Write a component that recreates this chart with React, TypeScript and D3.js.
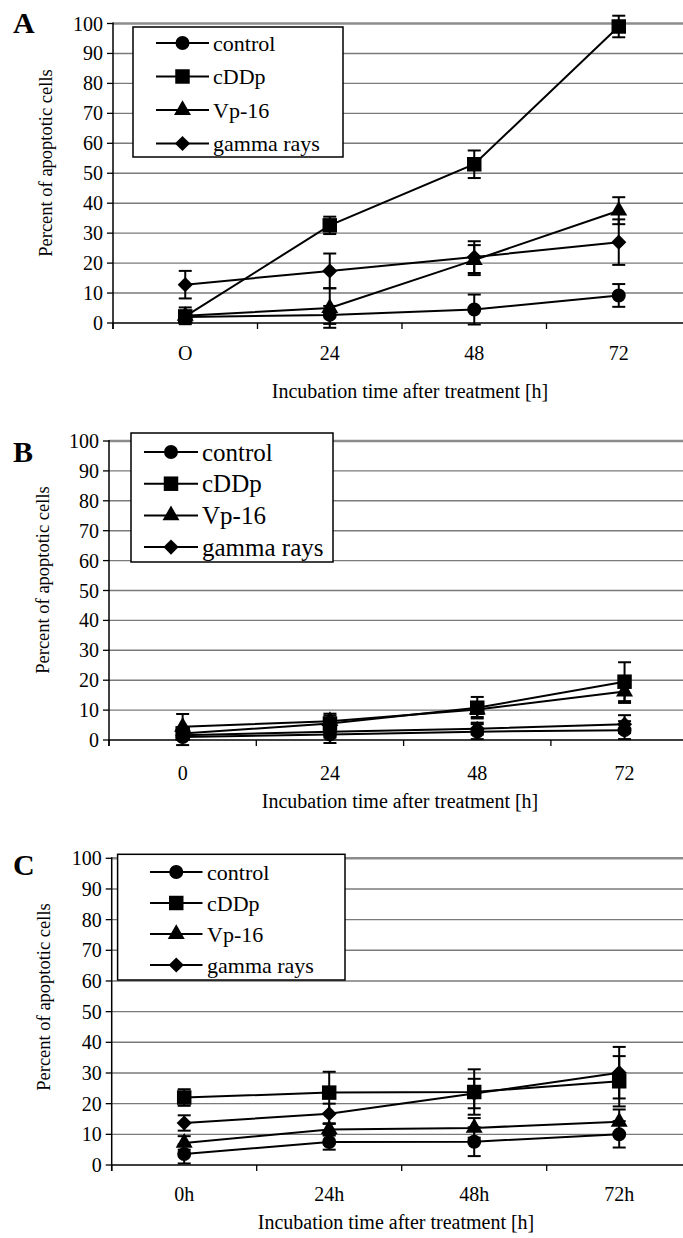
import React from "react";
import * as d3 from "d3";

const width = 683;
const height = 1238;
const font = '"Liberation Serif", "Times New Roman", "DejaVu Serif", serif';

const seriesNames = ["control", "cDDp", "Vp-16", "gamma rays"];
const yTicks = [0, 10, 20, 30, 40, 50, 60, 70, 80, 90, 100];
const xLabelsA = ["O", "24", "48", "72"];
const xLabelsB = ["0", "24", "48", "72"];
const xLabelsC = ["0h", "24h", "48h", "72h"];
const xTitle = "Incubation time after treatment [h]";
const yTitle = "Percent of apoptotic cells";

// panel A
const controlA = [2.0, 2.7, 4.5, 9.2];
const controlErrA = [1.0, 3.0, 5.0, 3.8];
const cddpA = [2.2, 32.6, 53.0, 99.0];
const cddpErrA = [1.5, 2.9, 4.6, 3.6];
const vp16A = [2.4, 5.0, 21.0, 37.5];
const vp16ErrA = [2.8, 6.6, 5.0, 4.5];
const gammaA = [12.8, 17.4, 22.0, 27.0];
const gammaErrA = [4.6, 5.8, 5.3, 7.6];

// panel B
const controlB = [1.0, 1.8, 2.8, 3.3];
const controlErrB = [2.7, 2.8, 2.5, 3.0];
const cddpB = [2.2, 5.5, 10.8, 19.5];
const cddpErrB = [2.0, 2.7, 3.6, 6.5];
const vp16B = [4.4, 6.3, 10.2, 16.2];
const vp16ErrB = [4.3, 2.5, 2.5, 3.8];
const gammaB = [1.6, 2.8, 3.8, 5.3];
const gammaErrB = [1.5, 2.0, 2.0, 3.0];

// panel C
const controlC = [3.6, 7.5, 7.6, 10.0];
const controlErrC = [3.1, 2.5, 4.7, 4.3];
const cddpC = [22.0, 23.6, 23.8, 27.3];
const cddpErrC = [2.7, 6.8, 7.4, 8.2];
const vp16C = [7.2, 11.6, 12.1, 14.1];
const vp16ErrC = [2.2, 2.0, 3.2, 4.0];
const gammaC = [13.7, 16.7, 23.3, 30.1];
const gammaErrC = [2.5, 3.3, 4.8, 8.4];

type Legend = { x: number; y: number; w: number; h: number; row0: number; rowStep: number; lineX0: number; lineX1: number; textX: number; size: number };
type PanelSpec = {
  letter: string; letterY: number;
  left: number; band: number; top: number; bottom: number;
  labels: string[]; values: number[][]; errors: number[][];
  tickY: number; titleX: number; titleY: number; yTitleX: number; yTitleY: number;
  legend: Legend;
};

const panels: PanelSpec[] = [
  {
    letter: "A", letterY: 33, left: 113, band: 144.5, top: 23.5, bottom: 323,
    labels: xLabelsA,
    values: [controlA, cddpA, vp16A, gammaA],
    errors: [controlErrA, cddpErrA, vp16ErrA, gammaErrA],
    tickY: 360, titleX: 410, titleY: 398, yTitleX: 52, yTitleY: 163,
    legend: { x: 133, y: 27, w: 210, h: 130, row0: 43, rowStep: 33.5, lineX0: 156, lineX1: 209, textX: 213, size: 22 },
  },
  {
    letter: "B", letterY: 462, left: 109, band: 147.3, top: 441, bottom: 740,
    labels: xLabelsB,
    values: [controlB, cddpB, vp16B, gammaB],
    errors: [controlErrB, cddpErrB, vp16ErrB, gammaErrB],
    tickY: 780, titleX: 400, titleY: 808, yTitleX: 49, yTitleY: 580,
    legend: { x: 131, y: 433, w: 202, h: 129, row0: 452, rowStep: 31.7, lineX0: 144, lineX1: 198, textX: 202, size: 25 },
  },
  {
    letter: "C", letterY: 875, left: 111.7, band: 145, top: 858.3, bottom: 1165,
    labels: xLabelsC,
    values: [controlC, cddpC, vp16C, gammaC],
    errors: [controlErrC, cddpErrC, vp16ErrC, gammaErrC],
    tickY: 1201, titleX: 396, titleY: 1229, yTitleX: 50, yTitleY: 997,
    legend: { x: 117.6, y: 854.3, w: 227.4, h: 125.7, row0: 872, rowStep: 31, lineX0: 150, lineX1: 202.5, textX: 207, size: 22 },
  },
];

// circle, square, triangle, diamond (square turned 45deg)
const symbols = [
  { type: d3.symbolCircle, size: 154, rotate: 0 },
  { type: d3.symbolSquare, size: 210, rotate: 0 },
  { type: d3.symbolTriangle, size: 125, rotate: 0 },
  { type: d3.symbolSquare, size: 115, rotate: 45 },
];

const serif = { fontFamily: font };

function Marker({ i, cx, cy }: { i: number; cx: number; cy: number }) {
  const s = symbols[i];
  const d = d3.symbol().type(s.type).size(s.size)() as string;
  return <path d={d} fill="#000" transform={`translate(${cx},${cy}) rotate(${s.rotate})`} />;
}

function Panel({ p }: { p: PanelSpec }) {
  const x = d3.scaleBand<string>().domain(p.labels).range([p.left, p.left + 4 * p.band]);
  const y = d3.scaleLinear().domain([0, 100]).range([p.bottom, p.top]);
  const cx = (i: number) => (x(p.labels[i]) as number) + x.bandwidth() / 2;
  const line = d3.line<number>().x((_, i) => cx(i)).y(d => y(d));
  const bounds = d3.range(5).map(i => p.left + i * x.bandwidth());
  const lg = p.legend;
  const cap = 6.5;

  return (
    <g>
      {yTicks.map(t => (
        <line key={t} x1={p.left} x2={width} y1={y(t)} y2={y(t)}
          stroke={t === 100 ? "#8c8c8c" : "#7a7a7a"} strokeWidth={t === 100 ? 2.6 : 1.4} />
      ))}
      <line x1={p.left} x2={width} y1={y(0)} y2={y(0)} stroke="#222" strokeWidth={1.6} />
      <line x1={p.left} x2={p.left} y1={y(100) - 1} y2={y(0) + 6} stroke="#000" strokeWidth={1.5} />
      {yTicks.map(t => (
        <g key={t}>
          <line x1={p.left - 6} x2={p.left} y1={y(t)} y2={y(t)} stroke="#000" strokeWidth={1.3} />
          <text x={p.left - 10} y={y(t)} dy="0.35em" textAnchor="end" fontSize={20} style={serif}>{t}</text>
        </g>
      ))}
      {bounds.map((b, i) => (
        <line key={i} x1={b} x2={b} y1={y(0)} y2={y(0) + 6} stroke="#000" strokeWidth={1.3} />
      ))}
      {p.labels.map((l, i) => (
        <text key={l} x={cx(i)} y={p.tickY} textAnchor="middle" fontSize={20} style={serif}>{l}</text>
      ))}
      <text x={p.titleX} y={p.titleY} textAnchor="middle" fontSize={20} style={serif}>{xTitle}</text>
      <text transform={`translate(${p.yTitleX},${p.yTitleY}) rotate(-90)`} textAnchor="middle" fontSize={18.5} style={serif}>{yTitle}</text>
      <text x={13} y={p.letterY} fontSize={30} fontWeight="bold" style={serif}>{p.letter}</text>

      {p.values.map((vals, s) => (
        <g key={s}>
          <path d={line(vals) as string} fill="none" stroke="#000" strokeWidth={2} />
          {vals.map((v, i) => {
            const e = p.errors[s][i];
            return (
              <g key={i} stroke="#000" strokeWidth={2}>
                <line x1={cx(i)} x2={cx(i)} y1={y(v - e)} y2={y(v + e)} />
                <line x1={cx(i) - cap} x2={cx(i) + cap} y1={y(v + e)} y2={y(v + e)} />
                <line x1={cx(i) - cap} x2={cx(i) + cap} y1={y(v - e)} y2={y(v - e)} />
              </g>
            );
          })}
          {vals.map((v, i) => <Marker key={i} i={s} cx={cx(i)} cy={y(v)} />)}
        </g>
      ))}

      <rect x={lg.x} y={lg.y} width={lg.w} height={lg.h} fill="#fff" stroke="#000" strokeWidth={1.5} />
      {seriesNames.map((n, s) => {
        const ry = lg.row0 + s * lg.rowStep;
        return (
          <g key={n}>
            <line x1={lg.lineX0} x2={lg.lineX1} y1={ry} y2={ry} stroke="#000" strokeWidth={2} />
            <Marker i={s} cx={(lg.lineX0 + lg.lineX1) / 2} cy={ry} />
            <text x={lg.textX} y={ry} dy="0.35em" fontSize={lg.size} style={serif}>{n}</text>
          </g>
        );
      })}
    </g>
  );
}

export default function App() {
  return (
    <svg width={width} height={height} style={{ position: "absolute", left: 0, top: 0, background: "#fff" }}>
      {panels.map(p => <Panel key={p.letter} p={p} />)}
    </svg>
  );
}
